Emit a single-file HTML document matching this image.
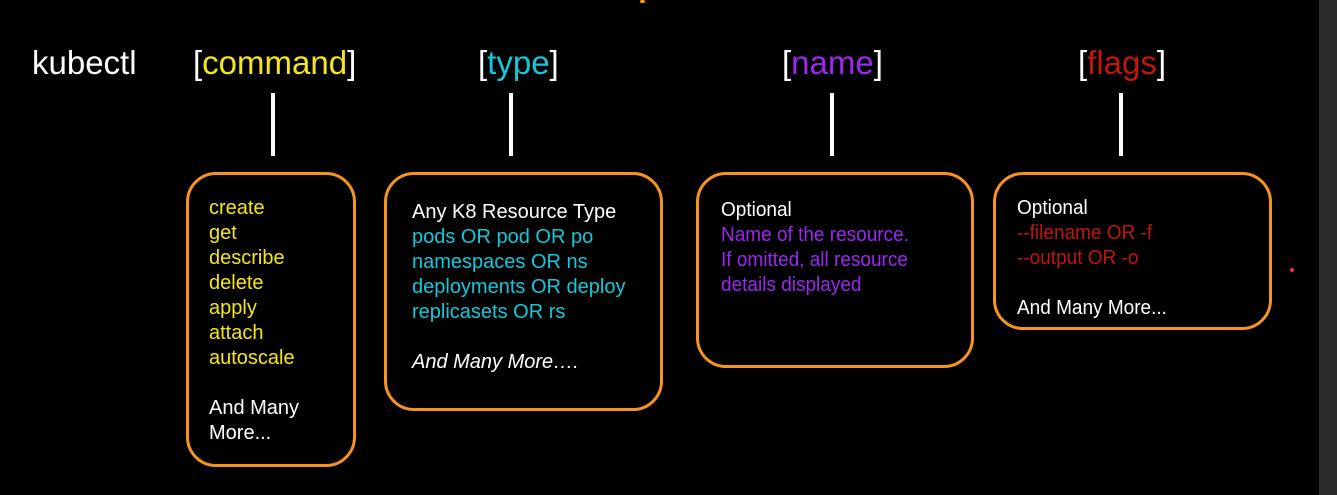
<!DOCTYPE html>
<html><head><meta charset="utf-8"><style>
body{margin:0;width:1337px;height:495px;background:#000;overflow:hidden;position:relative;font-family:"Liberation Sans",Arial,sans-serif}
.a{position:absolute;white-space:nowrap}
.h{font-size:33px;line-height:40px;color:#fff}
.v{position:absolute;width:4px;background:#fff;top:93px;height:63px}
.b{position:absolute;border:3.5px solid #f7941d;border-radius:30px;box-sizing:border-box}
.t{position:absolute;font-size:20px;line-height:25px;color:#fff;white-space:nowrap}
.y{color:#f5e61b}.c{color:#14c8dc}.p{color:#9b27f0}.r{color:#c0160c}
</style></head><body>
<div style="position:absolute;left:1319px;top:0;width:18px;height:495px;background:#2b2b2b"></div>
<div style="position:absolute;left:640px;top:0;width:5px;height:3px;background:#f7941d;border-radius:2px"></div>
<div class="a h" style="left:32px;top:43px">kubectl</div>
<div class="a h" style="left:193px;top:43px">[<span class="y">command</span>]</div>
<div class="a h" style="left:478px;top:43px">[<span class="c">type</span>]</div>
<div class="a h" style="left:782px;top:43px">[<span class="p">name</span>]</div>
<div class="a h" style="left:1078px;top:43px">[<span class="r">flags</span>]</div>
<div class="v" style="left:271px"></div>
<div class="v" style="left:509px"></div>
<div class="v" style="left:830px"></div>
<div class="v" style="left:1119px"></div>
<div class="b" style="left:186px;top:172px;width:170px;height:295px"></div>
<div class="b" style="left:384px;top:172px;width:279px;height:239px"></div>
<div class="b" style="left:696px;top:172px;width:278px;height:196px"></div>
<div class="b" style="left:993px;top:172px;width:279px;height:158px"></div>
<div class="t y" style="left:209px;top:196px">create<br>get<br>describe<br>delete<br>apply<br>attach<br>autoscale<br><br><span style="color:#fff">And Many<br>More...</span></div>
<div class="t" style="left:412px;top:200px">Any K8 Resource Type<br><span class="c">pods OR pod OR po<br>namespaces OR ns<br>deployments OR deploy<br>replicasets OR rs</span><br><br><i>And Many More….</i></div>
<div class="t" style="left:721px;top:198px;transform:scaleX(.95);transform-origin:left">Optional<br><span class="p">Name of the resource.<br>If omitted, all resource<br>details displayed</span></div>
<div class="t" style="left:1017px;top:196px;transform:scaleX(.95);transform-origin:left">Optional<br><span class="r">--filename OR -f<br>--output OR -o</span><br><br>And Many More...</div>
<div style="position:absolute;left:1290px;top:268px;width:4px;height:4px;border-radius:50%;background:#f03040"></div>
</body></html>
